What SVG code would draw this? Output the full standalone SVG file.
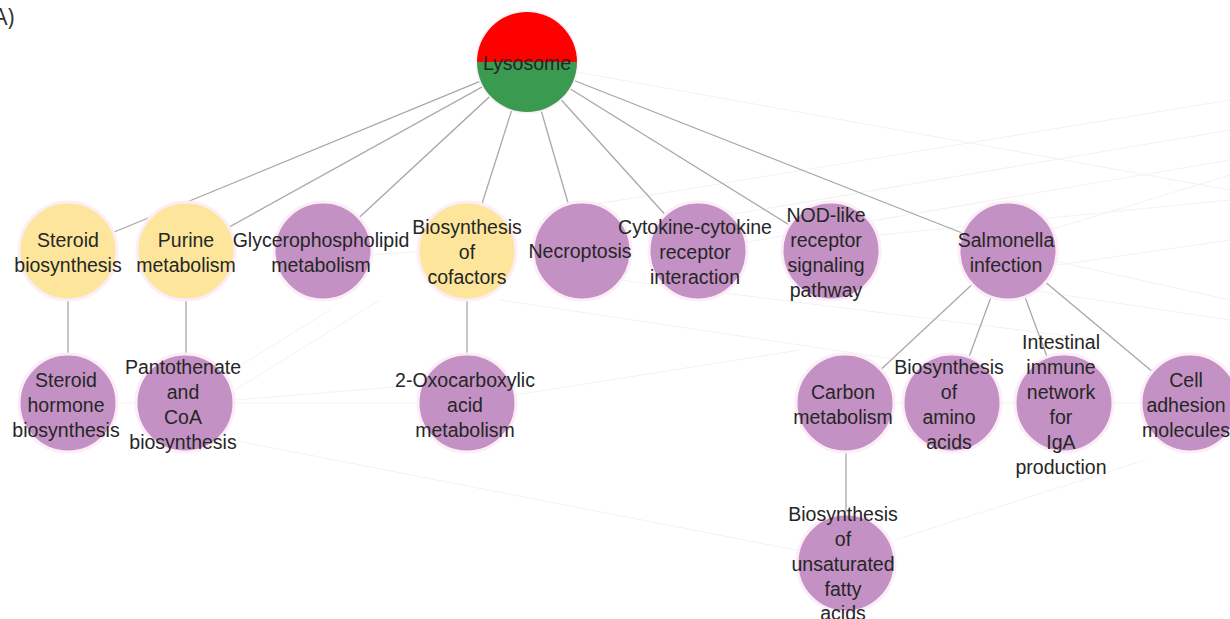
<svg xmlns="http://www.w3.org/2000/svg" width="1230" height="619" viewBox="0 0 1230 619">
  <style>
    .edge { stroke: #a8a8a8; stroke-width: 1.3; fill: none; }
    .faint { stroke: #f2f2f2; stroke-width: 1; fill: none; }
    .halo { stroke: #fcedf7; stroke-width: 3; }
    .purple { fill: #c391c4; }
    .yellow { fill: #fde69b; }
    text { font-family: "Liberation Sans", Arial, sans-serif; font-size: 19.5px; fill: #262626; text-anchor: middle; }
    .panel { font-family: "Open Sans", "Liberation Sans", sans-serif; font-size: 23px; text-anchor: start; fill: #333; }
  </style>

  <rect width="1230" height="619" fill="#ffffff"/>

  <text class="panel" x="-7" y="25">A)</text>

  <!-- background cross-links -->
  <g id="background-links">
    <line class="faint" x1="577" y1="72" x2="1230" y2="190"/>
    <line class="faint" x1="560" y1="210" x2="1230" y2="100"/>
    <line class="faint" x1="640" y1="230" x2="1230" y2="130"/>
    <line class="faint" x1="700" y1="250" x2="1230" y2="160"/>
    <line class="faint" x1="880" y1="235" x2="1230" y2="200"/>
    <line class="faint" x1="1050" y1="230" x2="1230" y2="175"/>
    <line class="faint" x1="1058" y1="265" x2="1230" y2="240"/>
    <line class="faint" x1="1030" y1="290" x2="1230" y2="320"/>
    <line class="faint" x1="1050" y1="260" x2="1230" y2="300"/>
    <line class="faint" x1="620" y1="280" x2="1100" y2="340"/>
    <line class="faint" x1="500" y1="300" x2="900" y2="360"/>
    <line class="faint" x1="235" y1="390" x2="380" y2="300"/>
    <line class="faint" x1="225" y1="375" x2="330" y2="310"/>
    <line class="faint" x1="235" y1="400" x2="420" y2="385"/>
    <line class="faint" x1="120" y1="403" x2="420" y2="403"/>
    <line class="faint" x1="515" y1="395" x2="800" y2="350"/>
    <line class="faint" x1="232" y1="440" x2="847" y2="560"/>
    <line class="faint" x1="895" y1="540" x2="1145" y2="460"/>
    <line class="faint" x1="895" y1="403" x2="1145" y2="403"/>
    <line class="faint" x1="300" y1="260" x2="440" y2="250"/>
  </g>

  <!-- connectors -->
  <g id="connectors">
    <line class="edge" x1="527" y1="62" x2="68" y2="251"/>
    <line class="edge" x1="527" y1="62" x2="186" y2="251"/>
    <line class="edge" x1="527" y1="62" x2="323" y2="251"/>
    <line class="edge" x1="527" y1="62" x2="467" y2="251"/>
    <line class="edge" x1="527" y1="62" x2="582" y2="251"/>
    <line class="edge" x1="527" y1="62" x2="698" y2="251"/>
    <line class="edge" x1="527" y1="62" x2="831" y2="251"/>
    <line class="edge" x1="527" y1="62" x2="1008" y2="251"/>
    <line class="edge" x1="68" y1="251" x2="68" y2="403"/>
    <line class="edge" x1="186" y1="251" x2="186" y2="403"/>
    <line class="edge" x1="467" y1="251" x2="467" y2="403"/>
    <line class="edge" x1="1008" y1="251" x2="845" y2="403"/>
    <line class="edge" x1="1008" y1="251" x2="952" y2="403"/>
    <line class="edge" x1="1008" y1="251" x2="1064" y2="403"/>
    <line class="edge" x1="1008" y1="251" x2="1190" y2="403"/>
    <line class="edge" x1="846" y1="403" x2="846" y2="563"/>
  </g>

  <!-- root -->
  <g id="lysosome">
    <circle cx="527" cy="62" r="50" fill="none" class="halo"/>
    <path d="M477,62 A50,50 0 0 1 577,62 Z" fill="#ff0000"/>
    <path d="M477,62 A50,50 0 0 0 577,62 Z" fill="#3a9b50"/>
    <text x="527" y="69.5">Lysosome</text>
  </g>

  <!-- first tier -->
  <g id="steroid-biosynthesis">
    <circle class="yellow halo" cx="68" cy="251" r="49"/>
    <text x="68" y="247">Steroid</text>
    <text x="68" y="272">biosynthesis</text>
  </g>
  <g id="purine-metabolism">
    <circle class="yellow halo" cx="186" cy="251" r="49"/>
    <text x="186" y="247">Purine</text>
    <text x="186" y="272">metabolism</text>
  </g>
  <g id="glycerophospholipid-metabolism">
    <circle class="purple halo" cx="323" cy="251" r="49"/>
    <text x="321" y="247">Glycerophospholipid</text>
    <text x="321" y="272">metabolism</text>
  </g>
  <g id="biosynthesis-of-cofactors">
    <circle class="yellow halo" cx="467" cy="251" r="49"/>
    <text x="467" y="234">Biosynthesis</text>
    <text x="467" y="259">of</text>
    <text x="467" y="284">cofactors</text>
  </g>
  <g id="necroptosis">
    <circle class="purple halo" cx="582" cy="251" r="49"/>
    <text x="580" y="258">Necroptosis</text>
  </g>
  <g id="cytokine-cytokine-receptor-interaction">
    <circle class="purple halo" cx="698" cy="251" r="49"/>
    <text x="695" y="234">Cytokine-cytokine</text>
    <text x="695" y="259">receptor</text>
    <text x="695" y="284">interaction</text>
  </g>
  <g id="nod-like-receptor-signaling-pathway">
    <circle class="purple halo" cx="831" cy="251" r="49"/>
    <text x="826" y="222">NOD-like</text>
    <text x="826" y="247">receptor</text>
    <text x="826" y="272">signaling</text>
    <text x="826" y="297">pathway</text>
  </g>
  <g id="salmonella-infection">
    <circle class="purple halo" cx="1008" cy="251" r="49"/>
    <text x="1006" y="247">Salmonella</text>
    <text x="1006" y="272">infection</text>
  </g>

  <!-- second tier -->
  <g id="steroid-hormone-biosynthesis">
    <circle class="purple halo" cx="68" cy="403" r="49"/>
    <text x="66" y="387">Steroid</text>
    <text x="66" y="412">hormone</text>
    <text x="66" y="437">biosynthesis</text>
  </g>
  <g id="pantothenate-and-coa-biosynthesis">
    <circle class="purple halo" cx="185" cy="403" r="49"/>
    <text x="183" y="374">Pantothenate</text>
    <text x="183" y="399">and</text>
    <text x="183" y="424">CoA</text>
    <text x="183" y="449">biosynthesis</text>
  </g>
  <g id="oxocarboxylic-acid-metabolism">
    <circle class="purple halo" cx="467" cy="403" r="49"/>
    <text x="465" y="387">2-Oxocarboxylic</text>
    <text x="465" y="412">acid</text>
    <text x="465" y="437">metabolism</text>
  </g>
  <g id="carbon-metabolism">
    <circle class="purple halo" cx="845" cy="403" r="49"/>
    <text x="843" y="399">Carbon</text>
    <text x="843" y="424">metabolism</text>
  </g>
  <g id="biosynthesis-of-amino-acids">
    <circle class="purple halo" cx="952" cy="403" r="49"/>
    <text x="949" y="374">Biosynthesis</text>
    <text x="949" y="399">of</text>
    <text x="949" y="424">amino</text>
    <text x="949" y="449">acids</text>
  </g>
  <g id="intestinal-immune-network-for-iga-production">
    <circle class="purple halo" cx="1064" cy="403" r="49"/>
    <text x="1061" y="349">Intestinal</text>
    <text x="1061" y="374">immune</text>
    <text x="1061" y="399">network</text>
    <text x="1061" y="424">for</text>
    <text x="1061" y="449">IgA</text>
    <text x="1061" y="474">production</text>
  </g>
  <g id="cell-adhesion-molecules">
    <circle class="purple halo" cx="1190" cy="403" r="49"/>
    <text x="1186" y="387">Cell</text>
    <text x="1186" y="412">adhesion</text>
    <text x="1186" y="437">molecules</text>
  </g>

  <!-- third tier -->
  <g id="biosynthesis-of-unsaturated-fatty-acids">
    <circle class="purple halo" cx="846" cy="563" r="49"/>
    <text x="843" y="521">Biosynthesis</text>
    <text x="843" y="546">of</text>
    <text x="843" y="571">unsaturated</text>
    <text x="843" y="596">fatty</text>
    <text x="843" y="620">acids</text>
  </g>
</svg>
